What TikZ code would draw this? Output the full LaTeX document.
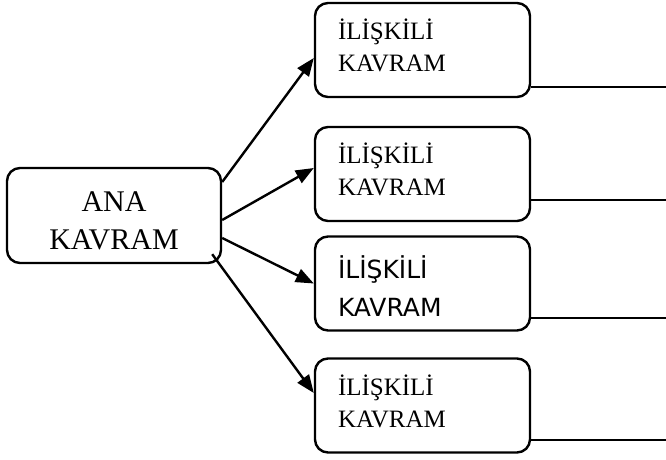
\documentclass[tikz,border=0pt]{standalone}
\usepackage{fontspec}
\setmainfont{Liberation Serif}
\newfontfamily\comicfont{DejaVu Sans}
\usetikzlibrary{positioning,calc}
\usetikzlibrary{arrows.meta}

\begin{document}
\begin{tikzpicture}[
x=0.5pt, y=-0.5pt,
ana/.style={rectangle, draw=black, line width=1.2pt, rounded corners=6.5pt,
  minimum width=107pt, minimum height=47.5pt, align=center,
  font=\fontsize{15}{19}\selectfont},
iliskili/.style={rectangle, draw=black, line width=1.2pt, rounded corners=6.5pt,
  minimum width=107.5pt, minimum height=47pt, text width=84.5pt, align=left,
  inner xsep=11.5pt, font=\fontsize{12.5}{16}\selectfont},
comic/.style={iliskili, font=\comicfont\fontsize{12.5}{19}\selectfont},
ok/.style={line width=1.2pt, -{Triangle[length=9pt,width=7pt]}},
cizgi/.style={line width=1pt}
]
\useasboundingbox (0,0) rectangle (666,460);

\node[ana] (ana) at (114,215.5) {\rule{0pt}{15pt}ANA\\KAVRAM};
\node[iliskili] (r1) at (422.5,50) {İLİŞKİLİ\\KAVRAM\rule[-4.5pt]{0pt}{0pt}};
\node[iliskili] (r2) at (422.5,174) {İLİŞKİLİ\\KAVRAM\rule[-4.5pt]{0pt}{0pt}};
\node[comic] (r3) at (422.5,283.5) {\rule{0pt}{14.5pt}İLİŞKİLİ\\KAVRAM};
\node[iliskili] (r4) at (422.5,405.5) {İLİŞKİLİ\\KAVRAM\rule[-4.5pt]{0pt}{0pt}};

% arrows
\draw[ok] ([yshift=16.75pt]ana.east) -- ([yshift=-4pt]r1.west);
\draw[ok] ([yshift=-2.25pt]ana.east) -- ([yshift=3pt]r2.west);
\draw[ok] ([yshift=-11.25pt]ana.east) -- (r3.west);
\draw[ok] ($(ana.south east)+(-10,-10)$) -- ([yshift=6.25pt]r4.west);

% lines on the right
\coordinate (e1) at (666,87);
\coordinate (e2) at (666,200);
\coordinate (e3) at (666,318);
\coordinate (e4) at (666,440);
\draw[cizgi] (r1.east |- e1) -- (e1);
\draw[cizgi] (r2.east |- e2) -- (e2);
\draw[cizgi] (r3.east |- e3) -- (e3);
\draw[cizgi] (r4.east |- e4) -- (e4);
\end{tikzpicture}
\end{document}
